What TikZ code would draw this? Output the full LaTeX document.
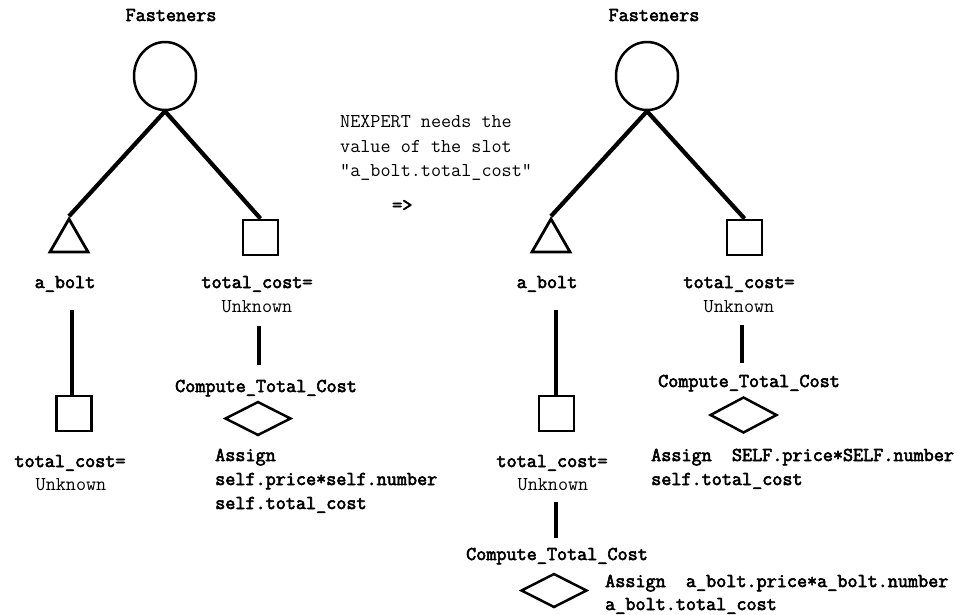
\documentclass[tikz,border=0pt]{standalone}
\usepackage{fontspec}
\usetikzlibrary{shapes.geometric}
\newfontfamily\lmtbold[FakeBold=3]{Latin Modern Mono}
\tikzset{
  lbl/.style={anchor=base, inner sep=0pt, font=\lmtbold\fontsize{19.6}{22}\selectfont},
  lblw/.style={lbl, anchor=base west},
  val/.style={anchor=base, inner sep=0pt, font=\ttfamily\fontsize{19.6}{22}\selectfont},
  valw/.style={val, anchor=base west},
  classnode/.style={draw, ellipse, line width=2.5pt, minimum width=62pt, minimum height=68pt, inner sep=0pt},
  objnode/.style={draw, regular polygon, regular polygon sides=3, line width=2.8pt, minimum size=44pt, inner sep=0pt},
  slotnode/.style={draw, rectangle, line width=2.8pt, minimum width=35pt, minimum height=35pt, inner sep=0pt},
  methnode/.style={draw, diamond, line width=2.5pt, minimum width=66pt, minimum height=34pt, inner sep=0pt},
  treeline/.style={line width=4.2pt},
  vline/.style={line width=3.2pt}
}
\begin{document}
\begin{tikzpicture}[x=1pt, y=-1pt]
\useasboundingbox (0,0) rectangle (964,614);

% ---------------- left tree ----------------
\node[lbl] (fastL) at (171,21) {Fasteners};
\node[classnode] (circL) at (165,76) {};
\node[objnode] (triL) at (69,241) {};
\node[slotnode] (sqL) at (260.5,237.5) {};
\draw[treeline] (circL.south) -- (triL.north);
\draw[treeline] (circL.south) -- (sqL.north);
\node[lbl] (aboltL) at (65,288) {a\_bolt};
\node[lbl] (tcL) at (257,288) {total\_cost=};
\node[val] (unkL) at (257,312) {Unknown};

\coordinate (lineLa) at (72,310);
\node[slotnode] (sqL2) at (74,413.5) {};
\draw[vline] (lineLa) -- (sqL2.north -| lineLa);
\node[lbl] (tcL2) at (70,467) {total\_cost=};
\node[val] (unkL2) at (71,490) {Unknown};

\coordinate (lineLb1) at (259,326);
\coordinate (lineLb2) at (259,365);
\draw[vline] (lineLb1) -- (lineLb2);
\node[lbl] (compL) at (266,392) {Compute\_Total\_Cost};
\node[methnode] (diaL) at (258,418.5) {};
\node[lblw] (asL1) at (215,461) {Assign};
\node[lblw] (asL2) at (215,485) {self.price*self.number};
\node[lblw] (asL3) at (215,509) {self.total\_cost};

% ---------------- middle text ----------------
\node[valw] (nx1) at (340,127) {NEXPERT needs the};
\node[valw] (nx2) at (340,152) {value of the slot};
\node[valw] (nx3) at (340,176) {"a\_bolt.total\_cost"};
\node[lblw] (arrow) at (392,211) {=>};

% ---------------- right tree ----------------
\node[lbl] (fastR) at (654,21) {Fasteners};
\node[classnode] (circR) at (647,76) {};
\node[objnode] (triR) at (551,241) {};
\node[slotnode] (sqR) at (744.5,237.5) {};
\draw[treeline] (circR.south) -- (triR.north);
\draw[treeline] (circR.south) -- (sqR.north);
\node[lbl] (aboltR) at (547,288) {a\_bolt};
\node[lbl] (tcR) at (739,288) {total\_cost=};
\node[val] (unkR) at (739,312) {Unknown};

\coordinate (lineRa) at (556,310);
\node[slotnode] (sqR2) at (556.5,413.5) {};
\draw[vline] (lineRa) -- (sqR2.north -| lineRa);
\node[lbl] (tcR2) at (552,467) {total\_cost=};
\node[val] (unkR2) at (553,490) {Unknown};

\coordinate (lineRc1) at (556,502);
\coordinate (lineRc2) at (556,538);
\draw[vline] (lineRc1) -- (lineRc2);
\node[lbl] (compR2) at (557,560) {Compute\_Total\_Cost};
\node[methnode] (diaR2) at (554,590.5) {};
\node[lblw] (asR21) at (605,587) {Assign~~a\_bolt.price*a\_bolt.number};
\node[lblw] (asR22) at (605,610) {a\_bolt.total\_cost};

\coordinate (lineRb1) at (742,325);
\coordinate (lineRb2) at (742,363);
\draw[vline] (lineRb1) -- (lineRb2);
\node[lbl] (compR) at (749,387) {Compute\_Total\_Cost};
\node[methnode, minimum width=67pt, minimum height=36pt] (diaR) at (743.5,415) {};
\node[lblw] (asR1) at (651,461) {Assign~~SELF.price*SELF.number};
\node[lblw] (asR2) at (651,485) {self.total\_cost};
\end{tikzpicture}
\end{document}
